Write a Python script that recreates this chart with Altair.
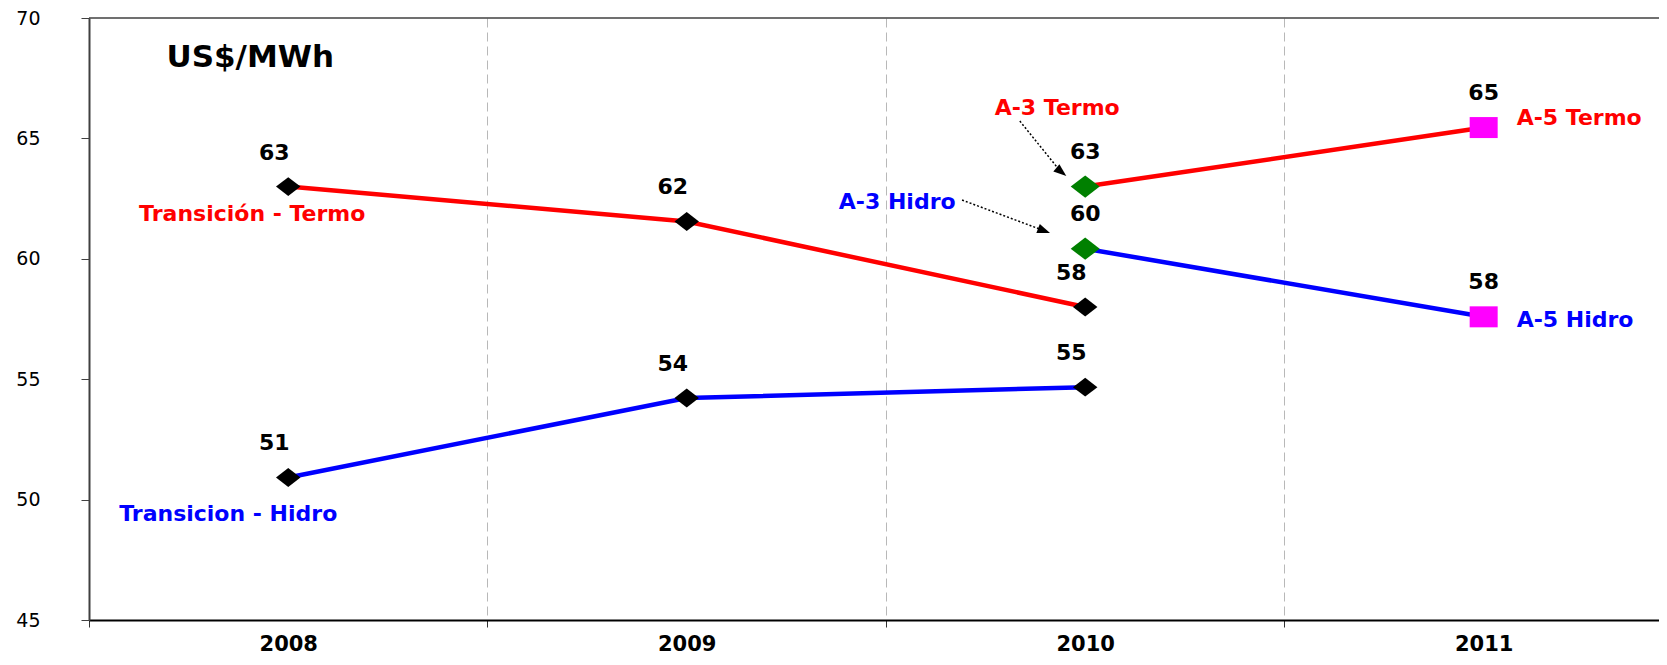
import altair as alt
import pandas as pd

# ---- data ----
years_trans = [2008, 2009, 2010]
trans_termo = [63.0, 61.55, 58.0]
trans_hidro = [50.92, 54.22, 54.67]
years_auction = [2010, 2011]
auction_termo = [63.0, 65.45]
auction_hidro = [60.42, 57.59]
auction_termo_names = ["A-3 Termo", "A-5 Termo"]
auction_hidro_names = ["A-3 Hidro", "A-5 Hidro"]
x_axis_values = [2007.5, 2008, 2008.5, 2009, 2009.5, 2010, 2010.5, 2011]
y_axis_values = [45, 50, 55, 60, 65, 70]
unit_label = ["US$/MWh"]

# annotation arrows (data units): start -> arrow head
arrow_x = [2009.836, 2009.691]
arrow_y = [65.72, 62.44]
arrow_xe = [2009.937, 2009.893]
arrow_ye = [63.65, 61.19]
arrow_angle = [129, 111]

rows = []
for yr, v in zip(years_trans, trans_termo):
    rows.append(dict(year=yr, value=v, group="tt", name="Transición - Termo", kind="trans"))
for yr, v in zip(years_trans, trans_hidro):
    rows.append(dict(year=yr, value=v, group="th", name="Transicion - Hidro", kind="trans"))
for yr, v, n in zip(years_auction, auction_termo, auction_termo_names):
    rows.append(dict(year=yr, value=v, group="at", name=n, kind="a3" if yr == 2010 else "a5"))
for yr, v, n in zip(years_auction, auction_hidro, auction_hidro_names):
    rows.append(dict(year=yr, value=v, group="ah", name=n, kind="a3" if yr == 2010 else "a5"))
df = pd.DataFrame(rows)

arrows = pd.DataFrame(dict(x=arrow_x, y=arrow_y, xe=arrow_xe, ye=arrow_ye, angle=arrow_angle))

FONT = "DejaVu Sans"
xs = alt.Scale(domain=[2007.5, 2011.44], nice=False, zero=False)
ys = alt.Scale(domain=[45, 70], nice=False, zero=False)

x_axis = alt.Axis(
    values=x_axis_values,
    title=None,
    labelExpr="datum.value % 1 == 0 ? '' + datum.value : ''",
    labelFont=FONT, labelFontSize=21, labelFontWeight="bold", labelColor="black",
    labelPadding=6, labelFlush=False, labelOverlap=False,
    tickSize=7, tickColor="#333333",
    tickOpacity={"condition": {"test": "datum.value % 1 == 0", "value": 0}, "value": 1},
    domainColor="black", domainWidth=2,
    grid=True, gridColor="#b8b8b8", gridDash=[9, 5], gridWidth=1,
    gridOpacity={"condition": {"test": "datum.value % 1 == 0 || datum.value < 2008", "value": 0}, "value": 1},
)
y_axis = alt.Axis(
    values=y_axis_values, title=None, grid=False,
    labelFont=FONT, labelFontSize=19, labelColor="black", labelPadding=41,
    tickSize=8, tickColor="#404040", domainColor="#404040", domainWidth=2,
)

X = alt.X("year:Q", scale=xs, axis=x_axis)
Y = alt.Y("value:Q", scale=ys, axis=y_axis)

base = alt.Chart(df)

top_border = alt.Chart(pd.DataFrame({"value": [70]})).mark_rule(
    color="#404040", strokeWidth=1.5).encode(y=Y)

lines = base.mark_line(strokeWidth=4.5).encode(
    x=X, y=Y, detail="group:N",
    color=alt.Color("group:N", scale=alt.Scale(domain=["tt", "th", "at", "ah"],
                                               range=["#ff0000", "#0000ff", "#ff0000", "#0000ff"]),
                    legend=None),
)

diamond = "M-1,0L0,-0.77L1,0L0,0.77Z"
rect = "M-1,-0.75L1,-0.75L1,0.75L-1,0.75Z"
head = "M0,-1L0.6,0.6L-0.6,0.6Z"

m_trans = base.transform_filter("datum.kind == 'trans'").mark_point(
    shape=diamond, size=600, filled=True, color="black", opacity=1).encode(x=X, y=Y)
m_a3 = base.transform_filter("datum.kind == 'a3'").mark_point(
    shape=diamond, size=841, filled=True, color="#008000", opacity=1).encode(x=X, y=Y)
m_a5 = base.transform_filter("datum.kind == 'a5'").mark_point(
    shape=rect, size=784, filled=True, color="#ff00ff", opacity=1).encode(x=X, y=Y)

val_trans = base.transform_filter("datum.kind == 'trans'").mark_text(
    font=FONT, fontSize=22, fontWeight="bold", color="black", dx=-14, dy=-34).encode(
    x=X, y=Y, text=alt.Text("value:Q", format=".0f"))
val_auc = base.transform_filter("datum.kind != 'trans'").mark_text(
    font=FONT, fontSize=22, fontWeight="bold", color="black", dx=0, dy=-35).encode(
    x=X, y=Y, text=alt.Text("value:Q", format=".0f"))


def name_label(group, year, color, dx, dy, align="center"):
    return base.transform_filter(
        f"datum.group == '{group}' && datum.year == {year}"
    ).mark_text(font=FONT, fontSize=22, fontWeight="bold", color=color,
                dx=dx, dy=dy, align=align, baseline="middle").encode(
        x=X, y=Y, text="name:N")


lbl_tt = name_label("tt", 2008, "#ff0000", -36, 27)
lbl_th = name_label("th", 2008, "#0000ff", -60, 37)
lbl_a3t = name_label("at", 2010, "#ff0000", -28, -79)
lbl_a3h = name_label("ah", 2010, "#0000ff", -188, -47)
lbl_a5t = name_label("at", 2011, "#ff0000", 33, -10, "left")
lbl_a5h = name_label("ah", 2011, "#0000ff", 33, 3, "left")

arrow_shaft = alt.Chart(arrows).mark_rule(color="black", strokeWidth=1.5, strokeDash=[2, 2]).encode(
    x=alt.X("x:Q", scale=xs, axis=x_axis), y=alt.Y("y:Q", scale=ys, axis=y_axis),
    x2="xe:Q", y2="ye:Q")
arrow_head = alt.Chart(arrows).mark_point(shape=head, size=256, filled=True, color="black", opacity=1).encode(
    x=alt.X("xe:Q", scale=xs, axis=x_axis), y=alt.Y("ye:Q", scale=ys, axis=y_axis),
    angle=alt.Angle("angle:Q", scale=None))

unit = alt.Chart(pd.DataFrame({"year": [2008], "value": [68.35], "t": unit_label})).mark_text(
    font=FONT, fontSize=31, fontWeight="bold", color="black", dx=-38, baseline="middle").encode(
    x=X, y=Y, text="t:N")

chart = alt.layer(
    top_border, lines, m_trans, m_a3, m_a5, val_trans, val_auc,
    lbl_tt, lbl_th, lbl_a3t, lbl_a3h, lbl_a5t, lbl_a5h,
    arrow_shaft, arrow_head, unit,
).properties(
    width=1570, height=602,
    autosize=alt.AutoSizeParams(type="none"),
    padding={"left": 81, "top": 10, "right": 0, "bottom": 37},
    background="white",
).configure_view(stroke=None)

chart.save("out.html", embed_options={"renderer": "svg", "actions": False})
